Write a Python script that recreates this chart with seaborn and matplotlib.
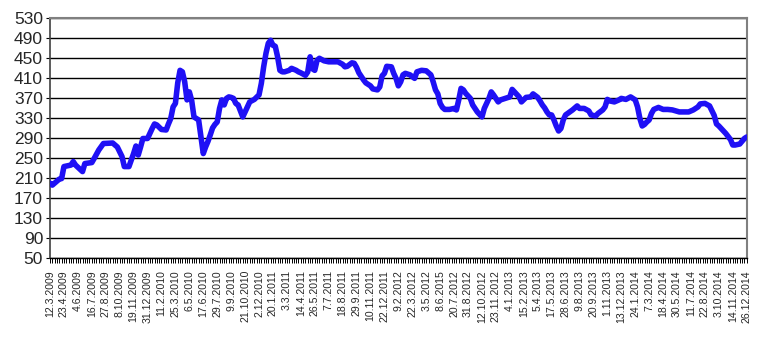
import matplotlib
matplotlib.use("Agg")
import matplotlib.pyplot as plt
import seaborn as sns
import pandas as pd
from matplotlib.ticker import MultipleLocator, FixedLocator

# week number counted from 12.3.2009 (weekly data)
week = [0, 1, 4, 5, 6, 9, 10, 11, 14, 15, 18, 19, 21, 23, 27, 29, 31, 32, 34, 36,
        37, 38, 39, 40, 42, 44, 45, 46, 48, 50, 51, 52, 53, 54, 55, 56, 57, 58, 59, 60,
        61, 62, 63, 64, 65, 66, 67, 68, 69, 70, 71, 72, 73, 74, 75, 76, 77, 78, 79, 80,
        81, 83, 85, 86, 88, 90, 91, 92, 93, 94, 95, 96, 97, 98, 99, 100, 101, 103, 104, 106,
        107, 108, 110, 111, 112, 113, 114, 115, 116, 118, 120, 122, 124, 126, 127, 128, 130, 131, 132, 133,
        135, 136, 138, 139, 141, 142, 143, 144, 145, 147, 148, 149, 150, 151, 152, 153, 155, 157, 158, 160,
        162, 164, 165, 166, 167, 168, 169, 170, 172, 174, 175, 176, 177, 178, 179, 181, 182, 183, 184, 186,
        187, 189, 190, 191, 193, 194, 196, 198, 199, 200, 202, 203, 205, 207, 208, 210, 211, 212, 213, 214,
        215, 216, 217, 218, 219, 220, 221, 222, 225, 227, 228, 230, 232, 233, 235, 236, 238, 239, 240, 241,
        243, 245, 246, 248, 250, 252, 253, 254, 255, 256, 257, 258, 259, 260, 262, 264, 266, 268, 271, 273,
        275, 277, 279, 280, 282, 284, 286, 287, 288, 289, 291, 293, 294, 295, 297, 299, 300]
value = [200, 196, 208, 209, 233, 236, 243, 236, 223, 239, 241, 249, 266, 279, 280, 272, 253, 233, 233, 259,
         274, 256, 272, 289, 289, 309, 318, 316, 307, 306, 318, 329, 352, 359, 400, 425, 422, 402, 366, 382,
         365, 332, 329, 326, 292, 259, 272, 283, 296, 310, 317, 322, 349, 366, 356, 369, 372, 371, 369, 359,
         356, 332, 352, 362, 367, 376, 399, 432, 459, 479, 485, 475, 473, 452, 425, 422, 422, 425, 429, 425,
         422, 420, 415, 422, 452, 428, 425, 445, 449, 444, 442, 442, 442, 437, 432, 433, 440, 439, 431, 420,
         406, 400, 394, 388, 386, 392, 414, 419, 433, 432, 419, 409, 394, 402, 416, 419, 416, 409, 422, 425,
         424, 416, 402, 386, 378, 359, 351, 347, 347, 349, 346, 366, 389, 386, 379, 369, 356, 349, 342, 332,
         349, 369, 382, 376, 362, 366, 369, 372, 387, 382, 372, 362, 371, 372, 378, 371, 364, 356, 350, 342,
         336, 336, 326, 314, 304, 309, 326, 336, 346, 354, 349, 349, 344, 336, 334, 339, 346, 352, 367, 364,
         362, 366, 369, 367, 372, 366, 352, 329, 314, 317, 322, 326, 339, 347, 351, 347, 347, 346, 342, 342,
         342, 346, 352, 358, 359, 354, 335, 318, 314, 309, 299, 287, 276, 276, 278, 289, 292]

tick_labels = ["12.3.2009", "23.4.2009", "4.6.2009", "16.7.2009", "27.8.2009", "8.10.2009",
               "19.11.2009", "31.12.2009", "11.2.2010", "25.3.2010", "6.5.2010", "17.6.2010",
               "29.7.2010", "9.9.2010", "21.10.2010", "2.12.2010", "20.1.2011", "3.3.2011",
               "14.4.2011", "26.5.2011", "7.7.2011", "18.8.2011", "29.9.2011", "10.11.2011",
               "22.12.2011", "9.2.2012", "22.3.2012", "3.5.2012", "8.6.2015", "20.7.2012",
               "31.8.2012", "12.10.2012", "23.11.2012", "4.1.2013", "15.2.2013", "5.4.2013",
               "17.5.2013", "28.6.2013", "9.8.2013", "20.9.2013", "1.11.2013", "13.12.2013",
               "24.1.2014", "7.3.2014", "18.4.2014", "30.5.2014", "11.7.2014", "22.8.2014",
               "3.10.2014", "14.11.2014", "26.12.2014"]
y_ticks = [50, 90, 130, 170, 210, 250, 290, 330, 370, 410, 450, 490, 530]

sns.set_style("white")
plt.rcParams['font.family'] = ['Liberation Sans', 'DejaVu Sans']

df = pd.DataFrame({"week": week, "value": value})

W, H = 766, 361
fig = plt.figure(figsize=(W / 100, H / 100), dpi=100)
ax = fig.add_axes([50 / W, (H - 258.3) / H, (746.7 - 50) / W, (258.3 - 17.7) / H])

sns.lineplot(data=df, x="week", y="value", ax=ax, color="#1f10f5", linewidth=4.0,
             solid_joinstyle="round", solid_capstyle="round", zorder=3)

n_weeks = 300
ax.set_xlim(0, n_weeks)
ax.set_ylim(50, 530)
ax.set_yticks(y_ticks)
ax.set_yticklabels([str(v) for v in y_ticks], fontsize=12.5)
ax.yaxis.grid(True, color="black", linewidth=1.0)
ax.xaxis.grid(False)

label_pos = [6 * k for k in range(len(tick_labels))]
ax.xaxis.set_major_locator(FixedLocator(label_pos))
ax.set_xticklabels(tick_labels, rotation=90, fontsize=7.6)
ax.xaxis.set_minor_locator(MultipleLocator(1))
ax.tick_params(axis="x", which="both", direction="out", length=3.5, width=0.7,
               color="black", pad=5, bottom=True)
ax.tick_params(axis="y", direction="out", length=3, width=0.8, color="black", pad=2, left=True)

ax.set_xlabel("")
ax.set_ylabel("")

for side in ["top", "right"]:
    ax.spines[side].set_color("#808080")
    ax.spines[side].set_linewidth(1.5)
ax.spines["left"].set_color("#404040")
ax.spines["left"].set_linewidth(1.2)
ax.spines["bottom"].set_color("black")
ax.spines["bottom"].set_linewidth(1.0)

fig.savefig("out.png", dpi=100)
